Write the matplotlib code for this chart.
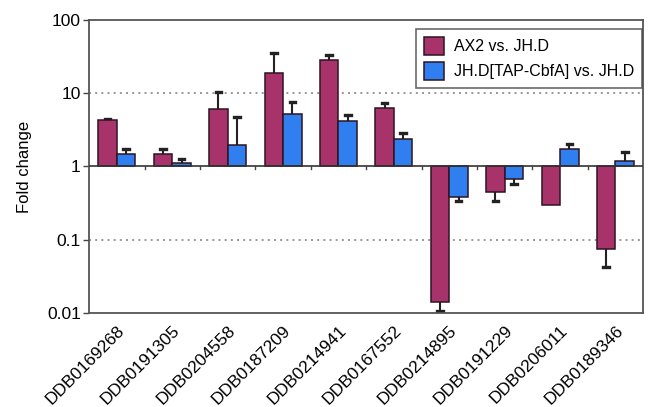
import matplotlib.pyplot as plt
import numpy as np

plt.rcParams['font.family'] = ['Liberation Sans', 'DejaVu Sans']

genes = ["DDB0169268", "DDB0191305", "DDB0204558", "DDB0187209", "DDB0214941",
         "DDB0167552", "DDB0214895", "DDB0191229", "DDB0206011", "DDB0189346"]
# fold change values
ax2_vals = [4.3, 1.5, 6.0, 19.0, 28.0, 6.3, 0.014, 0.45, 0.30, 0.075]
ax2_err_end = [4.5, 1.75, 10.5, 35.0, 33.0, 7.3, 0.0105, 0.34, 0.295, 0.042]
tap_vals = [1.5, 1.12, 1.95, 5.2, 4.2, 2.4, 0.38, 0.67, 1.75, 1.2]
tap_err_end = [1.75, 1.25, 4.7, 7.5, 5.0, 2.9, 0.34, 0.58, 2.0, 1.6]
series_labels = ["AX2 vs. JH.D", "JH.D[TAP-CbfA] vs. JH.D"]

magenta = "#a8336a"
blue = "#2f7ff0"

fig = plt.figure(figsize=(6.51, 4.07), dpi=100)
ax = fig.add_axes([0.137, 0.231, 0.851, 0.72])

x = np.arange(len(genes))
w = 0.335

def draw_series(xpos, vals, err_end, color, label):
    vals = np.array(vals)
    heights = vals - 1
    ax.bar(xpos, heights, w, bottom=1, color=color, edgecolor="#2e1420",
           linewidth=1.1, label=label, zorder=3)
    # one-sided error bars away from baseline
    for xi, v, e in zip(xpos, vals, err_end):
        if abs(np.log10(e) - np.log10(v)) < 0.01:
            continue
        ax.plot([xi, xi], [v, e], color="#222222", lw=1.5, zorder=2)
        ax.plot([xi - 0.05, xi + 0.05], [e, e], color="#222222", lw=2.4, zorder=2)

draw_series(x - w / 2, ax2_vals, ax2_err_end, magenta, series_labels[0])
draw_series(x + w / 2, tap_vals, tap_err_end, blue, series_labels[1])

ax.set_yscale("log")
ax.set_ylim(0.01, 100)
ax.set_xlim(-0.5, len(genes) - 0.5)
ax.set_yticks([0.01, 0.1, 1, 10, 100])
ax.set_yticklabels(["0.01", "0.1", "1", "10", "100"], fontsize=12.5)
ax.minorticks_off()
ax.tick_params(axis="y", length=4, width=1, color="#444444", pad=2)

for yv in [0.1, 10]:
    ax.axhline(yv, color="#888888", lw=1.2, ls=(0, (1.2, 2.5)), zorder=1)
ax.axhline(1, color="#333333", lw=1.2, zorder=4)
# category boundary ticks on the baseline
for b in np.arange(0.5, len(genes) - 0.5, 1):
    ax.plot([b, b], [1, 0.93], color="#444444", lw=1, zorder=4)

ax.set_xticks(x)
ax.set_xticklabels(genes, rotation=45, ha="right", rotation_mode="anchor", fontsize=12.5)
ax.tick_params(axis="x", length=0, pad=7)

for s in ax.spines.values():
    s.set_color("#555555")
    s.set_linewidth(1.3)

ax.set_ylabel("Fold change", fontsize=12, labelpad=11)

leg = ax.legend(loc="upper right", bbox_to_anchor=(0.998, 0.969), fontsize=11.5,
                frameon=True, fancybox=False, edgecolor="#444444", borderpad=0.5,
                handlelength=1.25, handleheight=1.35, borderaxespad=0,
                labelspacing=0.45, handletextpad=0.6)
leg.get_frame().set_linewidth(1.2)

fig.savefig("out.png", dpi=100)
